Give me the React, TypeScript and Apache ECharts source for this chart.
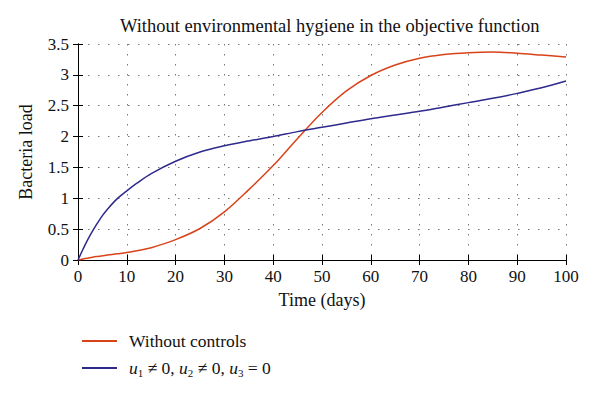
import React, { useEffect, useRef } from "react";
import * as echarts from "echarts";

const days = [0, 1, 2, 3, 4, 5, 6, 8, 10, 12, 15, 20, 25, 30, 35, 40, 45, 50, 55, 60, 65, 70, 75, 80, 85, 90, 95, 100];
const withoutControls = [0, 0.015, 0.03, 0.045, 0.057, 0.068, 0.08, 0.1, 0.12, 0.15, 0.2, 0.33, 0.51, 0.78, 1.14, 1.53, 1.97, 2.39, 2.74, 2.99, 3.16, 3.27, 3.33, 3.36, 3.37, 3.35, 3.32, 3.29];
const withControls = [0, 0.17, 0.33, 0.47, 0.6, 0.72, 0.82, 0.99, 1.12, 1.24, 1.4, 1.6, 1.75, 1.85, 1.93, 2.0, 2.08, 2.15, 2.22, 2.29, 2.35, 2.41, 2.48, 2.55, 2.62, 2.7, 2.79, 2.9];
const seriesNames = ["Without controls", "u1 != 0, u2 != 0, u3 = 0"];
const seriesColors = ["#d8431a", "#2d2a8c"];

const FONT = "Liberation Serif";

export default function App() {
  const ref = useRef<HTMLDivElement>(null);
  useEffect(() => {
    document.body.style.margin = "0";
    const chart = echarts.init(ref.current!, null, { renderer: "svg" });
    const grid = { type: [1.5, 8.5], color: "#777", width: 1 };
    const axisBase = {
      type: "value" as const,
      axisLine: { show: true, lineStyle: { color: "#000", width: 1 } },
      axisTick: { show: true, inside: true, length: 5, lineStyle: { color: "#000" } },
    };
    chart.setOption({
      animation: false,
      backgroundColor: "#fff",
      textStyle: { fontFamily: FONT },
      title: {
        text: "Without environmental hygiene in the objective function",
        left: 115,
        top: 11,
        textStyle: { fontFamily: FONT, fontSize: 18.5, fontWeight: "normal", color: "#111" },
      },
      grid: { left: 78, right: 34, top: 44, bottom: 137 },
      legend: {
        orient: "vertical",
        left: 77,
        top: 327,
        itemWidth: 35,
        itemHeight: 2,
        itemGap: 9,
        icon: "rect",
        data: seriesNames,
        formatter: (name: string) =>
          name === seriesNames[0]
            ? "{n|Without controls}"
            : "{i|u}{s|1}{n| ≠ 0, }{i|u}{s|2}{n| ≠ 0, }{i|u}{s|3}{n| = 0}",
        textStyle: {
          fontFamily: FONT,
          fontSize: 17.5,
          color: "#111",
          padding: [0, 0, 0, 7],
          rich: {
            n: { fontFamily: FONT, fontSize: 17.5, lineHeight: 20, color: "#111" },
            i: { fontFamily: FONT, fontSize: 17.5, lineHeight: 20, fontStyle: "italic", color: "#111" },
            s: { fontFamily: FONT, fontSize: 11, lineHeight: 11, verticalAlign: "bottom", color: "#111" },
          },
        },
      },
      xAxis: [
        {
          ...axisBase,
          min: 0,
          max: 100,
          interval: 10,
          name: "Time (days)",
          nameLocation: "middle",
          nameGap: 31,
          nameTextStyle: { fontFamily: FONT, fontSize: 18, color: "#111" },
          axisLabel: { fontFamily: FONT, fontSize: 17, color: "#111", margin: 8 },
          splitLine: { show: true, lineStyle: grid },
        },
        {
          ...axisBase,
          position: "top",
          min: 0,
          max: 100,
          interval: 10,
          axisLabel: { show: false },
          splitLine: { show: false },
        },
      ],
      yAxis: [
        {
          ...axisBase,
          min: 0,
          max: 3.5,
          interval: 0.5,
          name: "Bacteria load",
          nameLocation: "middle",
          nameGap: 43,
          nameTextStyle: { fontFamily: FONT, fontSize: 18, color: "#111" },
          axisLabel: { fontFamily: FONT, fontSize: 17, color: "#111", margin: 9 },
          splitLine: { show: true, lineStyle: grid },
        },
        {
          ...axisBase,
          position: "right",
          min: 0,
          max: 3.5,
          interval: 0.5,
          axisLabel: { show: false },
          splitLine: { show: false },
        },
      ],
      series: [
        {
          name: seriesNames[0],
          type: "line",
          data: days.map((d, i) => [d, withoutControls[i]]),
          showSymbol: false,
          symbol: "none",
          smooth: 0.35,
          lineStyle: { color: seriesColors[0], width: 1.5 },
          itemStyle: { color: seriesColors[0] },
        },
        {
          name: seriesNames[1],
          type: "line",
          data: days.map((d, i) => [d, withControls[i]]),
          showSymbol: false,
          symbol: "none",
          smooth: 0.35,
          lineStyle: { color: seriesColors[1], width: 1.5 },
          itemStyle: { color: seriesColors[1] },
        },
      ],
    });
    return () => chart.dispose();
  }, []);
  return <div ref={ref} style={{ width: 600, height: 397 }} />;
}
